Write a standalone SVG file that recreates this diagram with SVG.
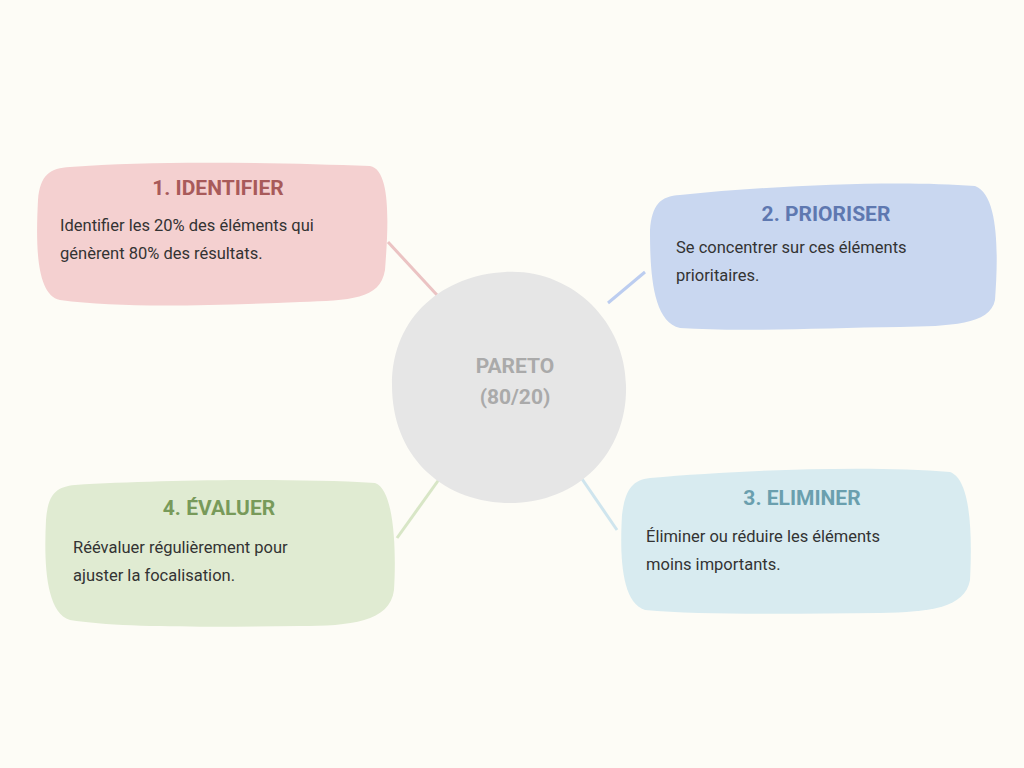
<svg xmlns="http://www.w3.org/2000/svg" width="1024" height="768" viewBox="0 0 1024 768">
<style>
.t{font-family:Roboto,"Liberation Sans",sans-serif;font-weight:700;font-size:21px;text-anchor:middle}
.b{font-family:Roboto,"Liberation Sans",sans-serif;font-size:16.5px;fill:#333}
.c{stroke-width:3;fill:none}
</style>
<rect width="1024" height="768" fill="#fdfcf6"/>
<g id="connectors">
<line class="c" x1="388" y1="242" x2="437" y2="295" stroke="#ebc3c3"/>
<line class="c" x1="608" y1="303" x2="645" y2="272" stroke="#bccdf0"/>
<line class="c" x1="580" y1="476" x2="617" y2="530" stroke="#cfe5ee"/>
<line class="c" x1="397" y1="538" x2="440" y2="478" stroke="#d8e6c6"/>
</g>
<g id="center">
<path d="M505 272 C570 268 625 320 626 385 C628 450 580 505 505 503 C440 500 392 455 392 385 C392 315 445 275 505 272 Z" fill="#e6e6e6"/>
<text x="515" y="373" class="t" fill="#aaaaaa" font-size="24">PARETO</text>
<text x="515" y="404" class="t" fill="#aaaaaa" font-size="24">(80/20)</text>
</g>
<g id="n1">
<path d="M70 167 C160 160 280 163 370 166 C392 170 388 230 385 270 C380 300 350 300 300 302 C200 306 120 308 60 300 C35 295 36 240 38 200 C40 175 50 168 70 167 Z" fill="#f4d0d0"/>
<text x="218" y="195" class="t" fill="#a85a5a">1. IDENTIFIER</text>
<text x="60" y="231" class="b">Identifier les 20% des éléments qui</text>
<text x="60" y="259" class="b">génèrent 80% des résultats.</text>
</g>
<g id="n2">
<path d="M680 195 C780 185 900 180 975 186 C1000 195 998 260 995 300 C990 325 950 326 900 327 C820 328 740 332 680 328 C652 322 650 270 650 230 C652 205 660 196 680 195 Z" fill="#c9d7f0"/>
<text x="826" y="221" class="t" fill="#5e78b0">2. PRIORISER</text>
<text x="676" y="253" class="b">Se concentrer sur ces éléments</text>
<text x="676" y="281" class="b">prioritaires.</text>
</g>
<g id="n3">
<path d="M650 478 C740 470 870 465 950 472 C972 480 972 540 970 580 C965 608 930 612 880 613 C790 614 700 615 645 610 C620 603 620 550 622 515 C625 490 632 480 650 478 Z" fill="#d8ebf0"/>
<text x="802" y="505" class="t" fill="#6a9fae">3. ELIMINER</text>
<text x="646" y="542" class="b">Éliminer ou réduire les éléments</text>
<text x="646" y="570" class="b">moins importants.</text>
</g>
<g id="n4">
<path d="M75 485 C160 480 290 478 375 483 C396 490 396 560 394 590 C390 622 350 626 300 626 C210 627 120 628 70 620 C45 612 44 560 46 520 C48 495 55 487 75 485 Z" fill="#e0ebd2"/>
<text x="219" y="515" class="t" fill="#789a5a">4. ÉVALUER</text>
<text x="73" y="553" class="b">Réévaluer régulièrement pour</text>
<text x="73" y="581" class="b">ajuster la focalisation.</text>
</g>
</svg>
